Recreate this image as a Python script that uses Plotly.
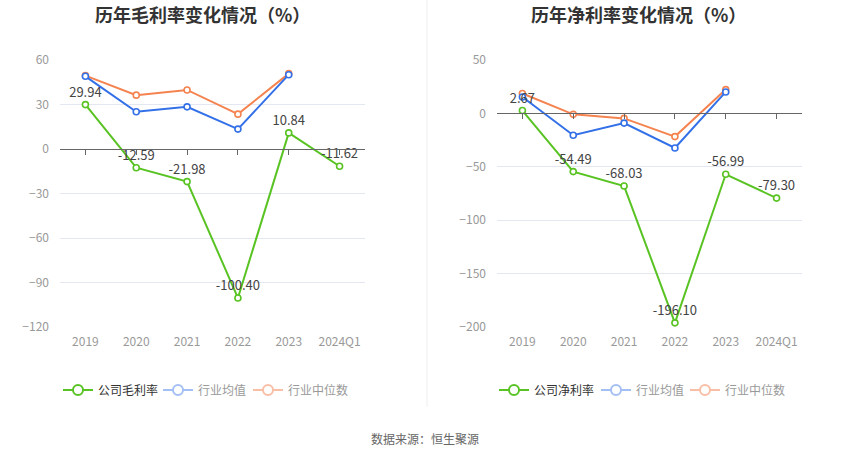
import plotly.graph_objects as go

W, H = 850, 459

years = ["2019", "2020", "2021", "2022", "2023", "2024Q1"]

# 毛利率 (%)
gross_company = [29.94, -12.59, -21.98, -100.40, 10.84, -11.62]
gross_ind_mean = [49.0, 25.1, 28.4, 13.4, 50.1, None]
gross_ind_median = [49.5, 36.3, 39.8, 23.5, 50.8, None]

# 净利率 (%)
net_company = [2.67, -54.49, -68.03, -196.10, -56.99, -79.30]
net_ind_mean = [15.4, -20.4, -9.1, -32.4, 20.1, None]
net_ind_median = [18.6, -0.9, -4.7, -21.7, 22.3, None]

GREEN = "#58c322"
BLUE = "#3370e8"
ORANGE = "#f4834f"
BLUE_LIGHT = "#a3bff3"
ORANGE_LIGHT = "#f8bfa6"

# plot areas in pixels
panels = [
    dict(title="历年毛利率变化情况（%）", comp=gross_company, mean=gross_ind_mean,
         median=gross_ind_median, comp_name="公司毛利率", yr=[-120, 60], dtick=30,
         px=(60, 365), title_x=202, legend_xs=(58, 158, 248)),
    dict(title="历年净利率变化情况（%）", comp=net_company, mean=net_ind_mean,
         median=net_ind_median, comp_name="公司净利率", yr=[-200, 50], dtick=50,
         px=(497, 802), title_x=638, legend_xs=(494, 596, 685)),
]
top_px, bot_px = 60, 327
ydom = [1 - bot_px / H, 1 - top_px / H]

fig = go.Figure()
layout = {}
annotations = []
leg_no = 0

for i, p in enumerate(panels):
    n = i + 1
    xa = "x" if n == 1 else f"x{n}"
    ya = "y" if n == 1 else f"y{n}"
    xa_tick = f"x{n + 2}"

    def line_trace(vals, color, textlabels=False):
        return go.Scatter(
            x=years, y=vals, xaxis=xa, yaxis=ya,
            mode="lines+markers+text" if textlabels else "lines+markers",
            line=dict(color=color, width=2),
            marker=dict(symbol="circle", size=6, color="white", line=dict(color=color, width=1.6)),
            text=[f"{v:.2f}" for v in vals] if textlabels else None,
            textposition="top center", textfont=dict(size=13, color="#444"),
            showlegend=False, hoverinfo="skip", cliponaxis=False,
        )

    fig.add_trace(line_trace(p["median"], ORANGE))
    fig.add_trace(line_trace(p["mean"], BLUE))
    fig.add_trace(line_trace(p["comp"], GREEN, textlabels=True))

    # legend entries (echarts-like, industry items faded), one legend per item
    items = [(p["comp_name"], GREEN, "#333"),
             ("行业均值", BLUE_LIGHT, "#999"),
             ("行业中位数", ORANGE_LIGHT, "#999")]
    for (name, color, tcolor), lx in zip(items, p["legend_xs"]):
        leg_no += 1
        leg = "legend" if leg_no == 1 else f"legend{leg_no}"
        fig.add_trace(go.Scatter(
            x=[None], y=[None], xaxis=xa, yaxis=ya, mode="lines+markers", name=name,
            line=dict(color=color, width=2),
            marker=dict(symbol="circle", size=10, color="white", line=dict(color=color, width=2)),
            legend=leg, showlegend=True,
        ))
        layout[leg] = dict(
            orientation="h", x=lx / W, xanchor="left", y=1 - 390 / H, yanchor="middle",
            font=dict(size=12, color=tcolor), bgcolor="rgba(0,0,0,0)",
            itemwidth=30, itemclick=False, itemdoubleclick=False,
        )

    # helper trace so the zero-line tick axis gets drawn
    fig.add_trace(go.Scatter(x=years, y=[None] * len(years), xaxis=xa_tick, yaxis=ya,
                             showlegend=False, hoverinfo="skip", mode="lines"))

    xdom = [p["px"][0] / W, p["px"][1] / W]
    y0, y1 = p["yr"]
    zero_pos = ydom[0] + (0 - y0) / (y1 - y0) * (ydom[1] - ydom[0])

    layout[f"xaxis{n if n > 1 else ''}"] = dict(
        domain=xdom, anchor=ya, type="category", range=[-0.5, 5.5],
        showgrid=False, showline=False, ticks="", zeroline=False, automargin=False,
        tickfont=dict(size=12, color="#999"), ticklabelstandoff=6,
    )
    layout[f"xaxis{n + 2}"] = dict(
        domain=xdom, overlaying=xa, anchor="free", position=zero_pos,
        type="category", range=[-0.5, 5.5], showgrid=False, automargin=False,
        showline=True, linecolor="#666", linewidth=1,
        ticks="outside", ticklen=5, tickcolor="#666", showticklabels=False,
    )
    layout[f"yaxis{n if n > 1 else ''}"] = dict(
        domain=ydom, anchor=xa, range=p["yr"], dtick=p["dtick"], automargin=False,
        showgrid=True, gridcolor="#e3e7f1", gridwidth=1, zeroline=False,
        showline=False, ticks="", tickfont=dict(size=12, color="#999"),
        ticklabelstandoff=10,
    )
    annotations.append(dict(
        text=f"<b>{p['title']}</b>", x=p["title_x"] / W, y=1 - 14 / H,
        xref="paper", yref="paper", showarrow=False,
        font=dict(size=18, color="#333"), xanchor="center", yanchor="middle",
    ))

annotations.append(dict(
    text="数据来源：恒生聚源", x=0.5, y=1 - 438 / H, xref="paper", yref="paper",
    showarrow=False, font=dict(size=12, color="#666"), xanchor="center", yanchor="middle",
))

fig.update_layout(
    width=W, height=H, margin=dict(l=0, r=0, t=0, b=0, autoexpand=False),
    paper_bgcolor="white", plot_bgcolor="white",
    font=dict(family="Noto Sans CJK SC, Noto Sans, sans-serif"),
    annotations=annotations, hovermode=False,
    shapes=[dict(type="line", xref="paper", yref="paper", x0=427 / W, x1=427 / W,
                 y0=1, y1=1 - 407 / H, line=dict(color="#eeeeee", width=1))],
    **layout,
)

fig.write_html("out.html", config={"displayModeBar": False},
               post_script="document.body.style.margin='0';")
